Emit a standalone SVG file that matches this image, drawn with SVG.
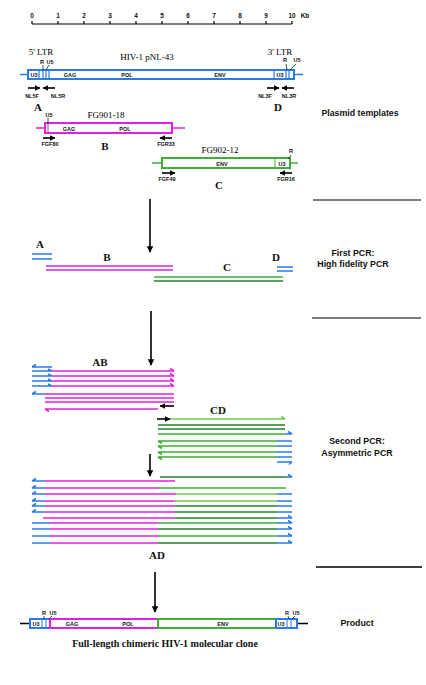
<svg xmlns="http://www.w3.org/2000/svg" width="426" height="685" viewBox="0 0 426 685">
<defs>
<marker id="ah" viewBox="0 0 10 10" refX="9" refY="5" markerWidth="4" markerHeight="4" orient="auto" markerUnits="strokeWidth">
<path d="M0 0 L10 5 L0 10 z" fill="#000"/>
</marker>
<marker id="ahs" viewBox="0 0 10 10" refX="9" refY="5" markerWidth="3.5" markerHeight="3.5" orient="auto" markerUnits="strokeWidth">
<path d="M0 0 L10 5 L0 10 z" fill="#000"/>
</marker>
</defs>
<style>
.s{fill:none;stroke-width:1.5}
.b{stroke:#2a7be8}
.m{stroke:#e020e0}
.g{stroke:#3fae35}
.lg{stroke:#6ccb4c}
.dg{stroke:#23802a}
.bx{fill:#fff;stroke-width:2}
.k{stroke:#000;fill:none}
.pa{stroke:#000;fill:none;stroke-width:1.6}
.t{font-family:"Liberation Sans",Arial,sans-serif;font-weight:bold;font-size:5.5px;text-anchor:middle;fill:#111}
.sc{font-family:"Liberation Sans",Arial,sans-serif;font-weight:bold;font-size:6.5px;text-anchor:middle;fill:#111}
.ti{font-family:"Liberation Serif","Times New Roman",serif;font-size:9px;text-anchor:middle;fill:#000}
.L{font-family:"Liberation Serif","Times New Roman",serif;font-weight:bold;font-size:11px;text-anchor:middle;fill:#111}
.r{font-family:"Liberation Sans",Arial,sans-serif;font-weight:bold;font-size:8.8px;text-anchor:middle;fill:#111}
</style>
<rect width="426" height="685" fill="#fff"/>

<g id="scale">
<line x1="32" y1="24" x2="292" y2="24" stroke="#000" stroke-width="1.2"/>
<path d="M32 21V24M58 21V24M84 21V24M110 21V24M136 21V24M162 21V24M188 21V24M214 21V24M240 21V24M266 21V24M292 21V24" stroke="#000" stroke-width="1.2"/>
<text class="sc" y="18"><tspan x="32">0</tspan><tspan x="58">1</tspan><tspan x="84">2</tspan><tspan x="110">3</tspan><tspan x="136">4</tspan><tspan x="162">5</tspan><tspan x="188">6</tspan><tspan x="214">7</tspan><tspan x="240">8</tspan><tspan x="266">9</tspan><tspan x="292">10</tspan></text>
<text class="sc" x="305" y="18">Kb</text>
</g>

<g id="hiv1">
<text class="ti" x="147" y="60">HIV-1 pNL-43</text>
<text class="ti" x="41" y="55">5' LTR</text>
<text class="ti" x="280" y="55">3' LTR</text>
<path d="M20 74.5H28M294 74.5H303" class="s b"/>
<rect x="28" y="70" width="266" height="9" class="bx b"/>
<path d="M39 70V79M43 70V79M46 70V79M49 70V79M274 70V79M286 70V79M289 70V79" class="b" stroke-width="1.2"/>
<text class="t" x="34" y="77">U3</text>
<text class="t" x="70" y="77">GAG</text>
<text class="t" x="127" y="77">POL</text>
<text class="t" x="220" y="77">ENV</text>
<text class="t" x="280" y="77">U3</text>
<text class="t" x="42" y="64">R</text>
<text class="t" x="50" y="64">U5</text>
<path d="M43 65V70M49 65L46 70" stroke="#000" stroke-width="0.7"/>
<text class="t" x="285" y="62">R</text>
<text class="t" x="297" y="62">U5</text>
<path d="M286 64L287 70M296 64L290 70" stroke="#000" stroke-width="0.7"/>
<path d="M28 88H40" class="pa" marker-end="url(#ahs)"/>
<path d="M55 88H43" class="pa" marker-end="url(#ahs)"/>
<path d="M267 88H279" class="pa" marker-end="url(#ahs)"/>
<path d="M294 88H282" class="pa" marker-end="url(#ahs)"/>
<text class="t" x="32" y="98">NL5F</text>
<text class="t" x="58" y="98">NL5R</text>
<text class="t" x="265" y="98">NL3F</text>
<text class="t" x="289" y="98">NL3R</text>
<text class="L" x="38" y="111">A</text>
<text class="L" x="278" y="111">D</text>
</g>

<g id="fg901">
<text class="ti" x="106" y="118">FG901-18</text>
<path d="M36 128H185" class="s m"/>
<rect x="45" y="123" width="127" height="10" class="bx m"/>
<path d="M48 123V133" class="m" stroke-width="1"/>
<text class="t" x="49" y="117">U5</text>
<path d="M48 118V124" stroke="#000" stroke-width="0.7"/>
<text class="t" x="69" y="130.5">GAG</text>
<text class="t" x="125" y="130.5">POL</text>
<path d="M43 138H55" class="pa" marker-end="url(#ahs)"/>
<path d="M172 138H160" class="pa" marker-end="url(#ahs)"/>
<text class="t" x="50" y="146">FGF80</text>
<text class="t" x="166" y="146">FGR33</text>
<text class="L" x="105" y="150">B</text>
</g>

<g id="fg902">
<text class="ti" x="220" y="153">FG902-12</text>
<path d="M152 163H298" class="s g"/>
<rect x="162" y="158" width="128" height="10" class="bx g"/>
<path d="M275 158V168" class="g" stroke-width="1"/>
<text class="t" x="222" y="165.5">ENV</text>
<text class="t" x="282" y="165.5">U3</text>
<text class="t" x="291" y="153">R</text>
<path d="M291 155L288 159" stroke="#000" stroke-width="0.7"/>
<path d="M162 173H175" class="pa" marker-end="url(#ahs)"/>
<path d="M292 173H280" class="pa" marker-end="url(#ahs)"/>
<text class="t" x="167" y="181">FGF49</text>
<text class="t" x="286" y="181">FGR16</text>
<text class="L" x="219" y="189">C</text>
</g>

<g id="stage-labels">
<text class="r" x="360" y="116">Plasmid templates</text>
<text class="r" x="353" y="256">First PCR:</text>
<text class="r" x="353" y="267">High fidelity PCR</text>
<text class="r" x="357" y="444">Second PCR:</text>
<text class="r" x="357" y="456">Asymmetric PCR</text>
<text class="r" x="357" y="626">Product</text>
<line x1="313" y1="200" x2="421" y2="200" stroke="#000" stroke-width="1.2"/>
<line x1="312" y1="318" x2="421" y2="318" stroke="#000" stroke-width="1.2"/>
<line x1="316" y1="567" x2="422" y2="567" stroke="#000" stroke-width="1.6"/>
</g>

<g id="connectors">
<path d="M150 199V252" class="k" stroke-width="1.6" marker-end="url(#ah)"/>
<path d="M151 311V365" class="k" stroke-width="1.6" marker-end="url(#ah)"/>
<path d="M150 454V476" class="k" stroke-width="1.6" marker-end="url(#ah)"/>
<path d="M155 572V612" class="k" stroke-width="1.6" marker-end="url(#ah)"/>
</g>

<g id="first-pcr">
<text class="L" x="40" y="248">A</text>
<text class="L" x="107" y="261">B</text>
<text class="L" x="227" y="271">C</text>
<text class="L" x="276" y="261">D</text>
<path d="M32 254H52M32 259H52" class="s b"/>
<path d="M46 266H173M46 270H173" class="s m"/>
<path d="M154 277H283" class="s g"/>
<path d="M154 281H283" class="s dg"/>
<path d="M277 267H293M277 271H293" class="s b"/>
</g>

<g id="ab">
<text class="L" x="100" y="366">AB</text>
<path d="M32 367H52M36 364.5L32 367" class="s b"/>
<path d="M32 371H52M48 369L52 371M32 376H52M48 374L52 376M32 381H52M48 379L52 381M32 386H52M48 384L52 386" class="s b"/>
<path d="M52 371H174M170 368.5L174 371M52 376H174M170 373.5L174 376M52 381H174M170 378.5L174 381M52 386H174M170 383.5L174 386" class="s m"/>
<path d="M32 394H45M36 391.5L32 394" class="s b"/>
<path d="M45 394H174M45 398H174M45 402H174M45 409H158M49 411.5L45 409" class="s m"/>
<path d="M174 406H160" class="pa" marker-end="url(#ahs)"/>
</g>

<g id="cd">
<text class="L" x="218" y="414">CD</text>
<path d="M157 419H170" class="pa" marker-end="url(#ahs)"/>
<path d="M170 419H285M281 416.5L285 419" class="s lg"/>
<path d="M158 425H285M158 429H285" class="s dg"/>
<path d="M158 434H285" class="s g"/>
<path d="M285 434H292M288 431.5L292 434" class="s b"/>
<path d="M158 441H277M162 443.5L158 441M158 446H277M162 448.5L158 446M158 452H277M162 454.5L158 452M158 457H277M162 459.5L158 457" class="s g"/>
<path d="M277 441H292M277 446H292M277 452H292M277 457H292M277 462H292M289 464.5L292 462" class="s b"/>
<path d="M160 477H287" class="s dg"/>
<path d="M287 477H292M288 474.5L292 477" class="s b"/>
</g>

<g id="ad">
<text class="L" x="157" y="559">AD</text>
<path d="M32 481H45M36 478.5L32 481M32 488H45M36 485.5L32 488M32 494H45M36 491.5L32 494M32 501H45M36 498.5L32 501M32 506H45M36 503.5L32 506M32 512H45M36 509.5L32 512" class="s b"/>
<path d="M45 481H175M45 488H159M45 494H176M45 501H175M45 506H175M45 512H175M43 518H175" class="s m"/>
<path d="M159 488H286" class="s g"/>
<path d="M176 494H277M175 501H277" class="s lg"/>
<path d="M175 506H277M175 512H277M175 518H277" class="s dg"/>
<path d="M277 494H292M277 501H292M277 506H292M277 512H292M277 518H292M288 515.5L292 518" class="s b"/>
<path d="M32 523H50M32 529H50M32 536H50M32 543H50" class="s b"/>
<path d="M50 523H158M50 529H158M50 536H158M50 543H158" class="s m"/>
<path d="M158 523H277M158 536H277" class="s g"/>
<path d="M158 529H277M158 543H277" class="s dg"/>
<path d="M277 523H292M288 520.5L292 523M277 529H292M288 526.5L292 529M277 536H292M288 533.5L292 536M277 543H292M288 540.5L292 543" class="s b"/>
</g>

<g id="product">
<path d="M20 623.5H30M297 623.5H308" stroke="#000" stroke-width="1.5"/>
<rect x="30" y="619" width="20" height="9" class="bx b"/>
<path d="M42 619V628M46 619V628" class="b" stroke-width="1"/>
<rect x="50" y="619" width="108" height="9" class="bx m"/>
<rect x="158" y="619" width="118" height="9" class="bx g"/>
<rect x="276" y="619" width="21" height="9" class="bx b"/>
<path d="M287 619V628M291 619V628" class="b" stroke-width="1"/>
<text class="t" x="36" y="626">U3</text>
<text class="t" x="72" y="626">GAG</text>
<text class="t" x="128" y="626">POL</text>
<text class="t" x="223" y="626">ENV</text>
<text class="t" x="281" y="626">U3</text>
<text class="t" x="44" y="615">R</text>
<text class="t" x="53" y="615">U5</text>
<path d="M44 616V619M52 616L49 619" stroke="#000" stroke-width="0.7"/>
<text class="t" x="287" y="615">R</text>
<text class="t" x="296" y="615">U5</text>
<path d="M288 616L289 619M295 616L292 619" stroke="#000" stroke-width="0.7"/>
<text x="165" y="647" font-family="Liberation Serif,'Times New Roman',serif" font-weight="bold" font-size="10" text-anchor="middle" fill="#111">Full-length chimeric HIV-1  molecular clone</text>
</g>
</svg>
